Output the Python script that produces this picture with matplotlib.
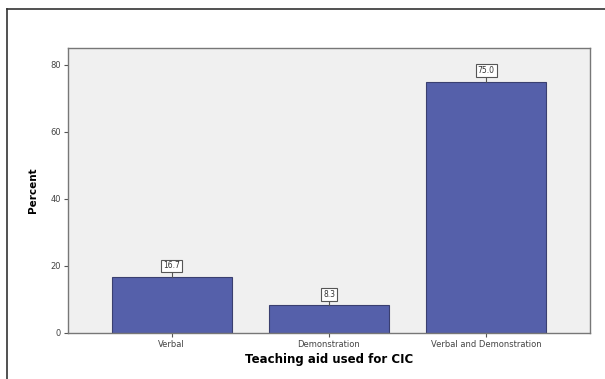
import matplotlib.pyplot as plt
from matplotlib.lines import Line2D

categories = ["Verbal", "Demonstration", "Verbal and Demonstration"]
percent = [16.7, 8.3, 75.0]
yticks = [0, 20, 40, 60, 80]

W, H = 605, 379
fig = plt.figure(figsize=(W / 100, H / 100), dpi=100)
fig.patch.set_facecolor("white")

# plot area in pixels: left 68, right 590, top 48, bottom 333
ax = fig.add_axes([68 / W, 1 - 333 / H, (590 - 68) / W, (333 - 48) / H])
ax.set_facecolor("#f0f0f0")

x = range(len(categories))
ax.bar(x, percent, width=0.76, color="#5560aa", edgecolor="#3a3f70", linewidth=0.8, zorder=2)
ax.set_xlim(-0.66, 2.66)
ax.set_ylim(0, 85)

for xi, v in zip(x, percent):
    ax.plot([xi, xi], [v, v + 1.6], color="#555555", lw=0.8, zorder=3)
    ax.text(xi, v + 3.3, f"{v:.1f}", ha="center", va="center", fontsize=5.5, color="#333333",
            bbox=dict(boxstyle="square,pad=0.25", fc="white", ec="#555555", lw=0.8), zorder=4)

ax.set_xticks(list(x))
ax.set_xticklabels(categories, fontsize=6, color="#444444")
ax.set_yticks(yticks)
ax.set_yticklabels([str(t) for t in yticks], fontsize=6, color="#444444")
ax.tick_params(length=3, width=0.8, color="#555555", pad=2)
for s in ax.spines.values():
    s.set_color("#777777")
    s.set_linewidth(1.0)

ax.set_xlabel("Teaching aid used for CIC", fontsize=8.5, fontweight="bold", labelpad=3)
ax.set_ylabel("Percent", fontsize=7.5, fontweight="bold", labelpad=9)

# outer frame (left and top edges visible)
fig.add_artist(Line2D([7 / W, 7 / W], [0, 1 - 9 / H], color="#333333", lw=1.2))
fig.add_artist(Line2D([7 / W, 1], [1 - 9 / H, 1 - 9 / H], color="#333333", lw=1.2))

fig.savefig("out.png", dpi=100)
